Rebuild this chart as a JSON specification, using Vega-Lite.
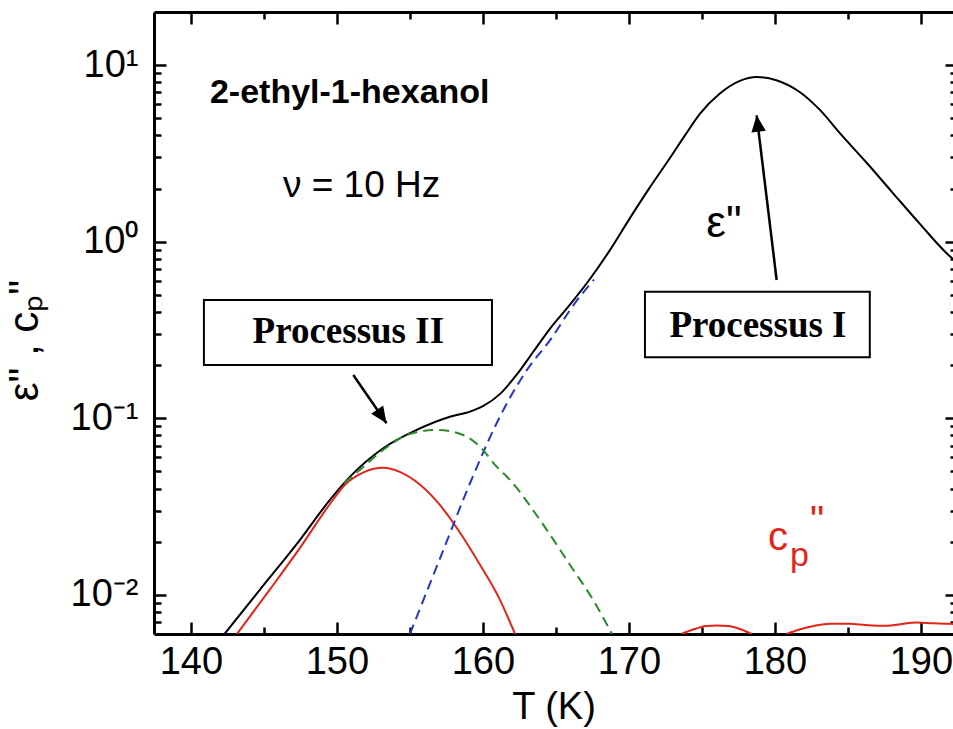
{
  "$schema": "https://vega.github.io/schema/vega-lite/v6.json",
  "width": 799,
  "height": 622,
  "autosize": {"type": "none"},
  "padding": {"left": 154, "top": 12, "right": 0, "bottom": 95},
  "background": "white",
  "config": {"view": {"stroke": null}, "font": "Liberation Sans"},
  "datasets": {
    "eps": [
      {"t": 142.3, "v": 0.006}, {"t": 144.73, "v": 0.0107}, {"t": 147.47, "v": 0.0205}, {"t": 149.52, "v": 0.0345},
      {"t": 150.9, "v": 0.0467}, {"t": 153.17, "v": 0.0676}, {"t": 155.46, "v": 0.0859}, {"t": 157.74, "v": 0.102},
      {"t": 159.11, "v": 0.109}, {"t": 160.0, "v": 0.117}, {"t": 161.16, "v": 0.137}, {"t": 162.3, "v": 0.176},
      {"t": 163.45, "v": 0.238}, {"t": 164.6, "v": 0.322}, {"t": 165.96, "v": 0.44}, {"t": 167.33, "v": 0.615},
      {"t": 168.7, "v": 0.896}, {"t": 170.07, "v": 1.36}, {"t": 171.4, "v": 2.01}, {"t": 172.8, "v": 2.97},
      {"t": 173.84, "v": 4.0}, {"t": 174.86, "v": 5.3}, {"t": 176.23, "v": 6.91}, {"t": 177.6, "v": 8.15},
      {"t": 178.75, "v": 8.57}, {"t": 180.1, "v": 8.22}, {"t": 181.7, "v": 7.05}, {"t": 183.1, "v": 5.56},
      {"t": 184.45, "v": 4.12}, {"t": 186.3, "v": 2.79}, {"t": 188.1, "v": 1.88}, {"t": 189.9, "v": 1.27},
      {"t": 191.76, "v": 0.861}, {"t": 192.5, "v": 0.76}
    ],
    "red": [
      {"t": 143.15, "v": 0.006, "seg": 1}, {"t": 145.4, "v": 0.0107, "seg": 1}, {"t": 147.47, "v": 0.01845, "seg": 1},
      {"t": 149.52, "v": 0.0327, "seg": 1}, {"t": 150.55, "v": 0.042, "seg": 1}, {"t": 151.9, "v": 0.0497, "seg": 1},
      {"t": 153.15, "v": 0.0524, "seg": 1}, {"t": 154.3, "v": 0.0497, "seg": 1}, {"t": 155.7, "v": 0.042, "seg": 1},
      {"t": 157.05, "v": 0.0323, "seg": 1}, {"t": 158.4, "v": 0.0227, "seg": 1}, {"t": 159.8, "v": 0.0148, "seg": 1},
      {"t": 161.16, "v": 0.0094, "seg": 1}, {"t": 162.2, "v": 0.006, "seg": 1},
      {"t": 173.6, "v": 0.006, "seg": 2}, {"t": 174.5, "v": 0.0064, "seg": 2}, {"t": 175.3, "v": 0.00665, "seg": 2},
      {"t": 176.0, "v": 0.0067, "seg": 2}, {"t": 176.8, "v": 0.00665, "seg": 2}, {"t": 177.6, "v": 0.0064, "seg": 2},
      {"t": 178.4, "v": 0.006, "seg": 2},
      {"t": 180.8, "v": 0.006, "seg": 3}, {"t": 181.8, "v": 0.0064, "seg": 3}, {"t": 182.8, "v": 0.0067, "seg": 3},
      {"t": 183.8, "v": 0.00685, "seg": 3}, {"t": 185.1, "v": 0.00685, "seg": 3}, {"t": 186.2, "v": 0.00675, "seg": 3},
      {"t": 187.4, "v": 0.00668, "seg": 3}, {"t": 188.5, "v": 0.0068, "seg": 3}, {"t": 189.7, "v": 0.00697, "seg": 3},
      {"t": 190.8, "v": 0.0069, "seg": 3}, {"t": 192.0, "v": 0.00685, "seg": 3}, {"t": 192.5, "v": 0.0068, "seg": 3}
    ],
    "blue": [
      {"t": 155.0, "v": 0.006}, {"t": 157.05, "v": 0.016}, {"t": 159.3, "v": 0.0466}, {"t": 160.94, "v": 0.0937},
      {"t": 163.0, "v": 0.187}, {"t": 164.6, "v": 0.277}, {"t": 166.3, "v": 0.449}, {"t": 167.6, "v": 0.61}
    ],
    "green": [
      {"t": 150.5, "v": 0.043}, {"t": 151.8, "v": 0.053}, {"t": 153.15, "v": 0.066}, {"t": 155.0, "v": 0.0815},
      {"t": 156.83, "v": 0.0859}, {"t": 158.65, "v": 0.0804}, {"t": 159.8, "v": 0.069}, {"t": 160.94, "v": 0.0532},
      {"t": 161.85, "v": 0.0448}, {"t": 163.9, "v": 0.0266}, {"t": 165.96, "v": 0.0148}, {"t": 167.67, "v": 0.009},
      {"t": 168.84, "v": 0.006}
    ]
  },
  "layer": [
    {
      "data": {"name": "eps"},
      "mark": {"type": "line", "clip": true, "color": "black", "strokeWidth": 2, "interpolate": "monotone"},
      "encoding": {
        "x": {
          "field": "t", "type": "quantitative",
          "scale": {"domain": [137.47, 192.2], "nice": false, "zero": false},
          "axis": {
            "orient": "bottom",
            "values": [140, 150, 160, 170, 180, 190],
            "tickSize": -12, "tickWidth": 2.5, "tickColor": "black",
            "domainColor": "black", "domainWidth": 3,
            "grid": false,
            "labelFont": "Liberation Sans", "labelFontSize": 38, "labelColor": "black", "labelPadding": 21,
            "labelFlush": false, "labelOverlap": false,
            "title": "T (K)", "titleFont": "Liberation Sans", "titleFontSize": 38, "titleFontWeight": "normal",
            "titleColor": "black", "titlePadding": 7
          }
        },
        "y": {
          "field": "v", "type": "quantitative",
          "scale": {"type": "log", "domain": [0.006, 20], "nice": false},
          "axis": {
            "orient": "left",
            "values": [0.01, 0.1, 1, 10],
            "labelExpr": "datum.value > 9 ? '10¹' : datum.value > 0.9 ? '10⁰' : datum.value > 0.09 ? '10⁻¹' : '10⁻²'",
            "tickSize": -12, "tickWidth": 2.5, "tickColor": "black",
            "domainColor": "black", "domainWidth": 3,
            "grid": false,
            "labelFont": "Liberation Sans", "labelFontSize": 38, "labelColor": "black", "labelPadding": 28,
            "labelFlush": false, "labelOverlap": false,
            "title": "ε\" ,  cₚ\"", "titleFont": "Liberation Sans", "titleFontSize": 42, "titleFontWeight": "normal",
            "titleColor": "black", "titlePadding": 24, "titleY": 328
          }
        }
      }
    },
    {
      "data": {"name": "red"},
      "mark": {"type": "line", "clip": true, "color": "#e0251b", "strokeWidth": 2, "interpolate": "monotone"},
      "encoding": {
        "x": {
          "field": "t", "type": "quantitative",
          "scale": {"domain": [137.47, 192.2], "nice": false, "zero": false},
          "axis": {
            "orient": "bottom", "values": [145, 155, 165, 175, 185],
            "labels": false, "title": null, "grid": false, "domain": false,
            "tickSize": -7, "tickWidth": 2.5, "tickColor": "black"
          }
        },
        "y": {
          "field": "v", "type": "quantitative",
          "scale": {"type": "log", "domain": [0.006, 20], "nice": false},
          "axis": {
            "orient": "left",
            "values": [0.007, 0.008, 0.009, 0.02, 0.03, 0.04, 0.05, 0.06, 0.07, 0.08, 0.09, 0.2, 0.3, 0.4, 0.5, 0.6, 0.7, 0.8, 0.9, 2, 3, 4, 5, 6, 7, 8, 9],
            "labels": false, "title": null, "grid": false, "domain": false,
            "tickSize": -7, "tickWidth": 2.5, "tickColor": "black"
          }
        },
        "detail": {"field": "seg", "type": "nominal"}
      }
    },
    {
      "data": {"name": "blue"},
      "mark": {"type": "line", "clip": true, "color": "#2236c8", "strokeWidth": 2, "strokeDash": [10, 6], "interpolate": "monotone"},
      "encoding": {
        "x": {
          "field": "t", "type": "quantitative",
          "scale": {"domain": [137.47, 192.2], "nice": false, "zero": false},
          "axis": {
            "orient": "top", "values": [140, 150, 160, 170, 180, 190],
            "labels": false, "title": null, "grid": false,
            "tickSize": -12, "tickWidth": 2.5, "tickColor": "black",
            "domainColor": "black", "domainWidth": 3
          }
        },
        "y": {
          "field": "v", "type": "quantitative",
          "scale": {"type": "log", "domain": [0.006, 20], "nice": false},
          "axis": {
            "orient": "right", "offset": 4, "values": [0.01, 0.1, 1, 10],
            "labels": false, "title": null, "grid": false,
            "tickSize": -12, "tickWidth": 2.5, "tickColor": "black",
            "domainColor": "black", "domainWidth": 3
          }
        }
      }
    },
    {
      "data": {"name": "green"},
      "mark": {"type": "line", "clip": true, "color": "#2a8a2a", "strokeWidth": 2, "strokeDash": [10, 6], "interpolate": "monotone"},
      "encoding": {
        "x": {
          "field": "t", "type": "quantitative",
          "scale": {"domain": [137.47, 192.2], "nice": false, "zero": false},
          "axis": {
            "orient": "top", "values": [145, 155, 165, 175, 185],
            "labels": false, "title": null, "grid": false, "domain": false,
            "tickSize": -7, "tickWidth": 2.5, "tickColor": "black"
          }
        },
        "y": {
          "field": "v", "type": "quantitative",
          "scale": {"type": "log", "domain": [0.006, 20], "nice": false},
          "axis": {
            "orient": "right", "offset": 4,
            "values": [0.007, 0.008, 0.009, 0.02, 0.03, 0.04, 0.05, 0.06, 0.07, 0.08, 0.09, 0.2, 0.3, 0.4, 0.5, 0.6, 0.7, 0.8, 0.9, 2, 3, 4, 5, 6, 7, 8, 9],
            "labels": false, "title": null, "grid": false, "domain": false,
            "tickSize": -7, "tickWidth": 2.5, "tickColor": "black"
          }
        }
      }
    },
    {
      "data": {"values": [
        {"t1": 180.12, "v1": 0.607, "t2": 178.75, "v2": 5.2},
        {"t1": 151.12, "v1": 0.176, "t2": 153.4, "v2": 0.0938}
      ]},
      "mark": {"type": "rule", "color": "black", "strokeWidth": 2.5},
      "encoding": {
        "x": {"field": "t1", "type": "quantitative", "scale": {"domain": [137.47, 192.2], "nice": false, "zero": false}, "axis": null},
        "x2": {"field": "t2"},
        "y": {"field": "v1", "type": "quantitative", "scale": {"type": "log", "domain": [0.006, 20], "nice": false}, "axis": null},
        "y2": {"field": "v2"}
      }
    },
    {
      "data": {"values": [
        {"t": 178.75, "v": 5.2, "ang": -6.9},
        {"t": 153.4, "v": 0.0938, "ang": 145.3}
      ]},
      "mark": {"type": "point", "filled": true, "color": "black", "opacity": 1, "size": 100, "shape": "M0,0L-1.45,3.3L1.45,3.3Z"},
      "encoding": {
        "x": {"field": "t", "type": "quantitative", "scale": {"domain": [137.47, 192.2], "nice": false, "zero": false}, "axis": null},
        "y": {"field": "v", "type": "quantitative", "scale": {"type": "log", "domain": [0.006, 20], "nice": false}, "axis": null},
        "angle": {"field": "ang", "type": "quantitative", "scale": null}
      }
    },
    {
      "data": {"values": [
        {"t1": 140.89, "t2": 160.62, "v1": 0.2003, "v2": 0.467},
        {"t1": 171.1, "t2": 186.5, "v1": 0.2213, "v2": 0.5206}
      ]},
      "mark": {"type": "rect", "fill": "white", "stroke": "black", "strokeWidth": 2},
      "encoding": {
        "x": {"field": "t1", "type": "quantitative", "scale": {"domain": [137.47, 192.2], "nice": false, "zero": false}, "axis": null},
        "x2": {"field": "t2"},
        "y": {"field": "v1", "type": "quantitative", "scale": {"type": "log", "domain": [0.006, 20], "nice": false}, "axis": null},
        "y2": {"field": "v2"}
      }
    },
    {
      "data": {"values": [
        {"t": 150.78, "v": 0.2658, "txt": "Processus II"},
        {"t": 178.84, "v": 0.2897, "txt": "Processus I"}
      ]},
      "mark": {"type": "text", "font": "Liberation Serif", "fontWeight": "bold", "fontSize": 37, "align": "center", "baseline": "alphabetic", "color": "black"},
      "encoding": {
        "x": {"field": "t", "type": "quantitative", "scale": {"domain": [137.47, 192.2], "nice": false, "zero": false}, "axis": null},
        "y": {"field": "v", "type": "quantitative", "scale": {"type": "log", "domain": [0.006, 20], "nice": false}, "axis": null},
        "text": {"field": "txt"}
      }
    },
    {
      "data": {"values": [{"t": 141.3, "v": 6.08, "txt": "2-ethyl-1-hexanol"}]},
      "mark": {"type": "text", "font": "Liberation Sans", "fontWeight": "bold", "fontSize": 34, "align": "left", "baseline": "alphabetic", "color": "black"},
      "encoding": {
        "x": {"field": "t", "type": "quantitative", "scale": {"domain": [137.47, 192.2], "nice": false, "zero": false}, "axis": null},
        "y": {"field": "v", "type": "quantitative", "scale": {"type": "log", "domain": [0.006, 20], "nice": false}, "axis": null},
        "text": {"field": "txt"}
      }
    },
    {
      "data": {"values": [{"t": 146.3, "v": 1.789, "txt": "ν = 10 Hz"}]},
      "mark": {"type": "text", "font": "Liberation Sans", "fontSize": 37, "align": "left", "baseline": "alphabetic", "color": "black"},
      "encoding": {
        "x": {"field": "t", "type": "quantitative", "scale": {"domain": [137.47, 192.2], "nice": false, "zero": false}, "axis": null},
        "y": {"field": "v", "type": "quantitative", "scale": {"type": "log", "domain": [0.006, 20], "nice": false}, "axis": null},
        "text": {"field": "txt"}
      }
    },
    {
      "data": {"values": [{"t": 175.3, "v": 1.062, "txt": "ε\""}]},
      "mark": {"type": "text", "font": "Liberation Sans", "fontSize": 44, "align": "left", "baseline": "alphabetic", "color": "black"},
      "encoding": {
        "x": {"field": "t", "type": "quantitative", "scale": {"domain": [137.47, 192.2], "nice": false, "zero": false}, "axis": null},
        "y": {"field": "v", "type": "quantitative", "scale": {"type": "log", "domain": [0.006, 20], "nice": false}, "axis": null},
        "text": {"field": "txt"}
      }
    },
    {
      "data": {"values": [{"t": 179.52, "v": 0.01798, "txt": "c"}, {"t": 182.4, "v": 0.022, "txt": "\""}]},
      "mark": {"type": "text", "font": "Liberation Sans", "fontSize": 40, "align": "left", "baseline": "alphabetic", "color": "#e0251b"},
      "encoding": {
        "x": {"field": "t", "type": "quantitative", "scale": {"domain": [137.47, 192.2], "nice": false, "zero": false}, "axis": null},
        "y": {"field": "v", "type": "quantitative", "scale": {"type": "log", "domain": [0.006, 20], "nice": false}, "axis": null},
        "text": {"field": "txt"}
      }
    },
    {
      "data": {"values": [{"t": 181.03, "v": 0.01459, "txt": "p"}]},
      "mark": {"type": "text", "font": "Liberation Sans", "fontSize": 34, "align": "left", "baseline": "alphabetic", "color": "#e0251b"},
      "encoding": {
        "x": {"field": "t", "type": "quantitative", "scale": {"domain": [137.47, 192.2], "nice": false, "zero": false}, "axis": null},
        "y": {"field": "v", "type": "quantitative", "scale": {"type": "log", "domain": [0.006, 20], "nice": false}, "axis": null},
        "text": {"field": "txt"}
      }
    }
  ],
  "resolve": {"axis": {"x": "independent", "y": "independent"}}
}
